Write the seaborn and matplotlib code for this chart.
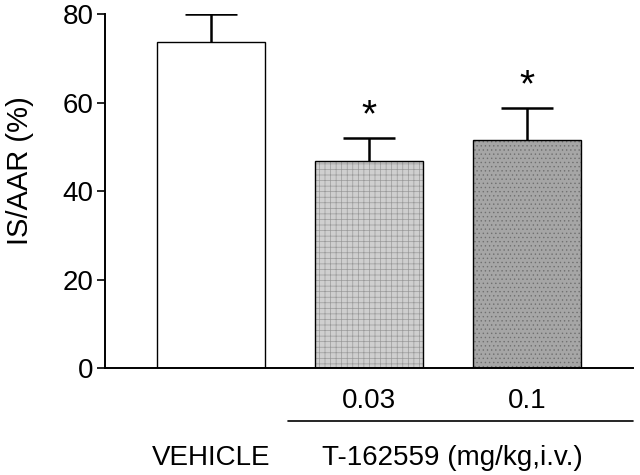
import matplotlib
matplotlib.use("Agg")
import matplotlib.pyplot as plt
import matplotlib.transforms as mtransforms
import seaborn as sb
import pandas as pd

groups = ["VEHICLE", "0.03", "0.1"]
tick_labels = ["", "0.03", "0.1"]
means = [73.7, 46.8, 51.5]
sem = [6.3, 5.2, 7.3]
signif = ["", "*", "*"]
bar_colors = ["#ffffff", "#cfcfcf", "#a6a6a6"]
hatches = ["", "+++", "...."]
hatch_colors = ["black", "#9a9a9a", "#707070"]

df = pd.DataFrame({"group": groups, "value": means})

sb.set_theme(style="white")
plt.rcParams["font.family"] = ["Liberation Sans", "DejaVu Sans"]
plt.rcParams["text.color"] = "black"
plt.rcParams["axes.labelcolor"] = "black"
plt.rcParams["xtick.color"] = "black"
plt.rcParams["ytick.color"] = "black"
plt.rcParams["hatch.linewidth"] = 0.5

fig = plt.figure(figsize=(6.4, 4.75), dpi=100)
ax = fig.add_axes([0.164, 0.225, 0.825, 0.745])

sb.barplot(x="group", y="value", data=df, hue="group", palette=bar_colors,
           legend=False, width=0.68, edgecolor="black", linewidth=1.0, ax=ax)
for patch, h, hc in zip(ax.patches, hatches, hatch_colors):
    patch.set_hatch(h)
    patch._hatch_color = matplotlib.colors.to_rgba(hc)

eb = ax.errorbar(range(len(groups)), means, yerr=[[0] * len(sem), sem], fmt="none",
                 ecolor="black", elinewidth=1.8, capsize=19, capthick=1.8, zorder=1)
# keep only the upper caps
for cap in eb[1]:
    if list(cap.get_ydata()) == means:
        cap.set_visible(False)

for i, (m, s, star) in enumerate(zip(means, sem, signif)):
    if star:
        ax.annotate(star, (i, m + s), xytext=(0, 3), textcoords="offset points",
                    ha="center", va="bottom", fontsize=28)

ax.set_ylim(0, 80)
ax.set_xlim(-0.67, 2.67)
ax.set_yticks([0, 20, 40, 60, 80])
ax.set_xticks(range(len(groups)))
ax.set_xticklabels(tick_labels, fontsize=20)
ax.tick_params(axis="y", labelsize=20, length=6, width=1.2, direction="out", left=True, pad=2)
ax.tick_params(axis="x", length=0, pad=14)
ax.set_xlabel("")
ax.set_ylabel("IS/AAR (%)", fontsize=21)
ax.yaxis.set_label_coords(-0.135, 0.557)

for side in ["top", "right"]:
    ax.spines[side].set_visible(False)
for side in ["left", "bottom"]:
    ax.spines[side].set_color("black")
    ax.spines[side].set_linewidth(1.4)

# group labels under the axis
trans = mtransforms.blended_transform_factory(ax.transData, fig.transFigure)
ax.plot([0.49, 2.67], [1 - 421 / 475, 1 - 421 / 475], color="black", lw=1.2,
        transform=trans, clip_on=False)
ax.text(0, 1 - 458 / 475, "VEHICLE", transform=trans, ha="center", va="center", fontsize=20)
ax.text(1.53, 1 - 458 / 475, "T-162559 (mg/kg,i.v.)", transform=trans, ha="center",
        va="center", fontsize=20)

plt.savefig("out.png", dpi=100)
